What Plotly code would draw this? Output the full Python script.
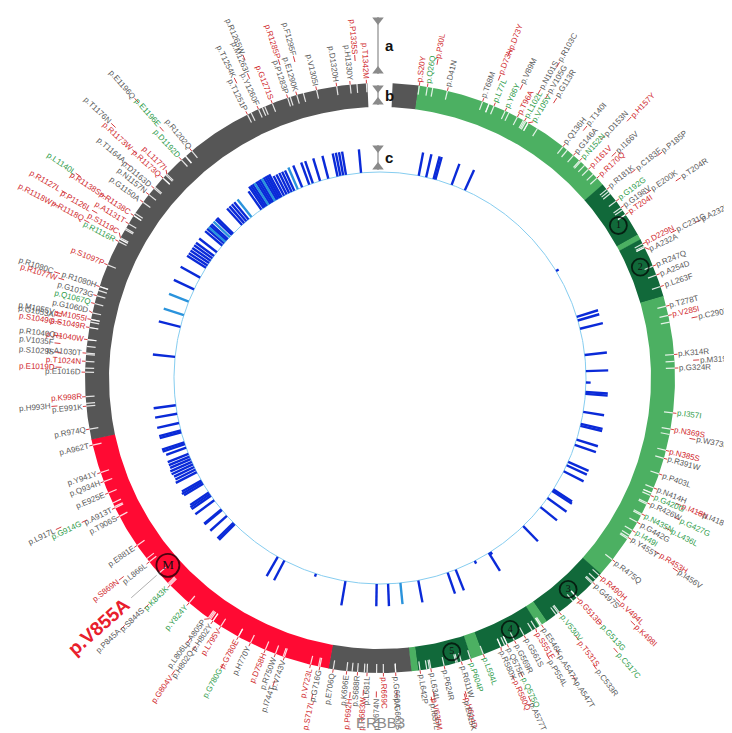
import re, math
import plotly.graph_objects as go

# ---------------- data ----------------
PROTEIN_LEN = 1342
GENE = "ERBB3"

domain_start = [1, 20, 177, 222, 226, 271, 489, 542, 549, 595, 604, 644, 649, 710, 967]
domain_end   = [19, 176, 221, 225, 270, 488, 541, 548, 594, 603, 643, 648, 709, 966, 1342]
domain_kind  = ['other', 'ecd', 'cr', 'ecd', 'cr', 'ecd', 'cr', 'ecd', 'cr', 'ecd', 'cr', 'ecd', 'other', 'kinase', 'other']

motif_pos   = [208, 244, 514, 568, 616, 855]
motif_label = ['1', '2', '3', '4', '5', 'M']

labels = [
    'p.S20Y', 'p.Q26Q', 'p.P30L', 'p.D41N', 'p.T68M', 'p.D73N', 'p.D73Y', 'p.L77L', 'p.Y86Y', 'p.V89M',
    'p.T96A', 'p.N101S', 'p.L102L', 'p.R103C', 'p.V105G', 'p.V105V', 'p.G113R', 'p.Q136H', 'p.T140I', 'p.G146A',
    'p.N152N', 'p.D153N', 'p.H157Y', 'p.I161V', 'p.I166V', 'p.R170Q', 'p.R181K', 'p.C183F', 'p.P185P', 'p.G192G',
    'p.G198V', 'p.E200K', 'p.T204I', 'p.T204R', 'p.D229N', 'p.C231G', 'p.A232S', 'p.A232A', 'p.R247Q', 'p.A254D',
    'p.L263F', 'p.T278T', 'p.V285I', 'p.C290Y', 'p.K314R', 'p.M319I', 'p.G324R', 'p.I357I', 'p.N369S', 'p.W373R',
    'p.N385S', 'p.R391W', 'p.P403L', 'p.N414H', 'p.I418N', 'p.I418V', 'p.G420G', 'p.R426W', 'p.G427G', 'p.N435N',
    'p.L436L', 'p.G442G', 'p.I449I', 'p.R453H', 'p.Y455Y', 'p.I456V', 'p.R475Q', 'p.R490H', 'p.V494L', 'p.G497S',
    'p.K498I', 'p.G513D', 'p.G513G', 'p.C517C', 'p.V530V', 'p.T531S', 'p.C533R', 'p.E546K', 'p.A547A', 'p.A547T',
    'p.S551F', 'p.P554L', 'p.G561S', 'p.G569R', 'p.Q575E', 'p.Q575Q', 'p.A577T', 'p.R580X', 'p.R580Q', 'p.L594L',
    'p.P604P', 'p.R611W', 'p.H614D', 'p.E615K', 'p.P624R', 'p.L634L', 'p.V635M', 'p.I637L', 'p.L642P', 'p.G660A',
    'p.G660S', 'p.R669C', 'p.N674N', 'p.L681L', 'p.R683W', 'p.S688R', 'p.P692H', 'p.K696E', 'p.E706Q', 'p.G716G',
    'p.S717L', 'p.V723L', 'p.V743V', 'p.I744T', 'p.R750W', 'p.D758H', 'p.H770Y', 'p.G780E', 'p.G780G', 'p.L795V',
    'p.H802Y', 'p.H802Q', 'p.G804V', 'p.A805P', 'p.L806L', 'p.Y824Y', 'p.K843K', 'p.S844S', 'p.P845A', 'p.V855A',
    'p.L866L', 'p.S869N', 'p.E881E', 'p.T906S', 'p.A913T', 'p.G914G', 'p.L917L', 'p.E925E', 'p.Q934H', 'p.Y941Y',
    'p.A962T', 'p.R974Q', 'p.E991K', 'p.H993H', 'p.K998R', 'p.E1016D', 'p.E1019D', 'p.T1024N', 'p.S1029S', 'p.A1030T',
    'p.V1035F', 'p.R1040W', 'p.R1040Q', 'p.S1049R', 'p.S1049G', 'p.G1053A', 'p.M1055I', 'p.M1055V', 'p.G1060D', 'p.Q1067Q',
    'p.G1073G', 'p.R1077W', 'p.R1080H', 'p.R1080C', 'p.S1097P', 'p.R1116R', 'p.R1118Q', 'p.R1118W', 'p.S1119C', 'p.P1126L',
    'p.R1127L', 'p.A1131T', 'p.R1138C', 'p.R1138S', 'p.L1140L', 'p.G1150A', 'p.N1157N', 'p.D1163D', 'p.T1164A', 'p.R1173Q',
    'p.R1173W', 'p.T1176N', 'p.L1177I', 'p.D1192D', 'p.E1196E', 'p.E1196Q', 'p.R1202Q', 'p.T1251P', 'p.T1254K', 'p.Y1260F',
    'p.M1263I', 'p.R1265W', 'p.G1271S', 'p.P1283P', 'p.R1285P', 'p.E1290K', 'p.F1295F', 'p.V1305I', 'p.D1320H', 'p.H1330Y',
    'p.P1335S', 'p.T1342M',
]
# r = recurrent (red), g = synonymous (green), k = other (grey)
label_class = list("".join([
    "rgrkkrrggk", "rkgkkgkkkk", "gkrrkrkkkg", "kkrkrkkkkk", "kkrkkkkgrk", "rkkkrkgkgg",
    "gkgrkkkrrk", "rrgggrkkkk", "rkkkkgkkrg", "gkrkkkrkkk", "krkkrkrkkk", "rrkkkrkrgr",
    "kkrkkggkkr", "krkkkgkkkk", "kkkkrkrrkk", "krkrrkrkkg", "krkkrgrrrr", "rrrrgkkkkr",
    "rkrggkkkkk", "kkrkrkkkkk", "rr",
]))

highlight = 'p.V855A'

bar_pos = [32, 40, 48, 50, 68, 83, 213, 266, 270, 279, 307, 324, 336, 346, 348, 367, 380, 382, 397, 403,
           422, 426, 433, 455, 457, 466, 478, 505, 549, 551, 568, 590, 599, 631, 650, 663, 675, 708, 740, 776,
           784, 841, 843, 853, 861, 862, 874, 880, 882, 884, 895, 897, 899, 909, 912, 915, 918, 921, 924, 927,
           930, 937, 941, 943, 954, 956, 964, 974, 983, 1034, 1066, 1079, 1094, 1108, 1122, 1134, 1137, 1140, 1143, 1146,
           1149, 1154, 1163, 1166, 1168, 1170, 1172, 1175, 1178, 1180, 1193, 1196, 1199, 1202, 1206, 1219, 1222, 1224, 1226, 1228,
           1230, 1232, 1234, 1236, 1238, 1240, 1242, 1244, 1247, 1250, 1253, 1256, 1259, 1263, 1268, 1276, 1280, 1288, 1297, 1307,
           1310, 1313, 1316, 1332]
bar_value = [10, 10, 10, 10, 9.5, 9.5, 1.3, 9.5, 9.5, 10, 9.5, 9.5, 2, 9.5, 9.5, 9, 9.5, 9.5, 9.5, 9.5,
             9.5, 9.5, 9.5, 9.5, 10, 10, 9, 9, 1.3, 9, 1.3, 9.5, 9.5, 9.5, 9, 9.5, 9.5, 10.5, 1.3, 9.5,
             9.5, 9.5, 9.5, 9.5, 9.5, 9.5, 10, 10, 10, 9.5, 9.5, 10, 9.5, 10, 9.5, 9.5, 10, 10, 9.5, 9.5,
             9.5, 9, 10, 10, 9.5, 9.5, 9.5, 9.5, 9.5, 9.5, 9.5, 9, 9, 9.5, 9.5, 9.5, 9.5, 9.5, 9.5, 9.5,
             9.5, 9.5, 9.5, 9.5, 9.5, 9.5, 9.5, 9.5, 9.5, 9.5, 9.5, 9.5, 9.5, 9.5, 9.5, 9.5, 11, 11, 11, 11,
             11, 11, 11, 11, 11, 11, 11, 11, 9.5, 9.5, 9.5, 9.5, 9.5, 10, 10, 10, 10, 10, 10, 10,
             10, 10, 10, 10]
bar_light = [1079, 1094, 1168, 1175, 1206, 1228, 1236, 1263, 650]

assert len(labels) == len(label_class)
assert len(bar_pos) == len(bar_value)

# ---------------- geometry / style ----------------
GAP = 5.0
R_IN, R_OUT = 271.0, 295.0
R_CIRCLE = 206.0
BAR_SCALE = 2.35
R_LABEL = 299.0
SEP = 1.55
X_MIN, X_MAX, Y_MIN, Y_MAX = -372, 360, -363, 370

FONT = "Liberation Sans, Arial, sans-serif"
FS = 8

COL = {'ecd': '#4cb062', 'cr': '#11693a', 'kinase': '#ff0a33', 'other': '#565656'}
TXT = {'r': '#d0282c', 'g': '#2f9c4b', 'k': '#595959'}


def ang(u):
    return GAP / 2 + u / PROTEIN_LEN * (360 - GAP)


def theta(p):
    return ang(p - 0.5)


def xy(r, th):
    a = math.radians(th)
    return r * math.sin(a), r * math.cos(a)


CW = {'p': .556, '.': .278, 'A': .667, 'B': .667, 'C': .722, 'D': .722, 'E': .667, 'F': .611, 'G': .778,
      'H': .722, 'I': .278, 'K': .667, 'L': .556, 'M': .833, 'N': .722, 'P': .667, 'Q': .778, 'R': .722,
      'S': .667, 'T': .611, 'V': .667, 'W': .944, 'Y': .667, 'X': .667}


def text_w(s, fs=None, bold=1.0):
    fs = FS if fs is None else fs
    return sum(CW.get(c, .556) for c in s) * fs * bold


def max_radius(th, pad=11):
    """Largest radius at angle th that stays inside the canvas."""
    sx, cy = math.sin(math.radians(th)), math.cos(math.radians(th))
    lim = []
    if sx > 1e-6:
        lim.append((X_MAX - pad) / sx)
    elif sx < -1e-6:
        lim.append((X_MIN + pad) / sx)
    if cy > 1e-6:
        lim.append((Y_MAX - pad) / cy)
    elif cy < -1e-6:
        lim.append((Y_MIN + pad) / cy)
    return min(lim) if lim else 1e9


fig = go.Figure()

# ring segments
for s, e, k in zip(domain_start, domain_end, domain_kind):
    a0, a1 = ang(s - 1) - 0.05, ang(e) + 0.05
    n = max(4, int((a1 - a0) * 2))
    ths = [a0 + (a1 - a0) * i / n for i in range(n + 1)]
    xs, ys = [], []
    for t in ths:
        x, y = xy(R_OUT, t); xs.append(x); ys.append(y)
    for t in reversed(ths):
        x, y = xy(R_IN, t); xs.append(x); ys.append(y)
    fig.add_trace(go.Scatter(x=xs, y=ys, fill='toself', fillcolor=COL[k], mode='lines',
                             line=dict(width=0, color=COL[k]), hoverinfo='skip', showlegend=False))

# positions of labels
label_pos = [int(re.match(r'p\.[A-Z](\d+)', s).group(1)) for s in labels]

# white mutation ticks in ring
tx, ty = [], []
for p in label_pos:
    th = theta(p)
    x0, y0 = xy(R_OUT, th); x1, y1 = xy(R_OUT - 9, th)
    tx += [x0, x1, None]; ty += [y0, y1, None]
fig.add_trace(go.Scatter(x=tx, y=ty, mode='lines', line=dict(color='rgba(255,255,255,0.85)', width=1.2),
                         hoverinfo='skip', showlegend=False))

# inner light-blue circle
cxs, cys = [], []
for i in range(721):
    x, y = xy(R_CIRCLE, i * 0.5); cxs.append(x); cys.append(y)
fig.add_trace(go.Scatter(x=cxs, y=cys, mode='lines', line=dict(color='#86cdf0', width=1),
                         hoverinfo='skip', showlegend=False))

# blue bars
for light in (False, True):
    bx, by = [], []
    for p, v in zip(bar_pos, bar_value):
        if (p in bar_light) != light:
            continue
        th = theta(p)
        x0, y0 = xy(R_CIRCLE, th); x1, y1 = xy(R_CIRCLE + v * BAR_SCALE, th)
        bx += [x0, x1, None]; by += [y0, y1, None]
    fig.add_trace(go.Scatter(x=bx, y=by, mode='lines',
                             line=dict(color='#2a93dc' if light else '#0a2ad8', width=2.4),
                             hoverinfo='skip', showlegend=False))

# label layout (greedy tiers)
order = sorted(range(len(labels)), key=lambda i: label_pos[i])
last = [-999.0, -999.0, -999.0]
placed = {}
for i in order:
    th = theta(label_pos[i])
    if labels[i] == highlight:
        for t in range(3):
            last[t] = max(last[t], th + 1.2)
        continue
    chosen = None
    for t in (0, 1):
        if th - last[t] >= SEP:
            chosen, thl = t, th
            break
    if chosen is None:
        pushes = [last[t] + SEP - th for t in range(3)]
        t = 0 if pushes[0] <= pushes[1] else 1
        if pushes[t] > 1.2 and pushes[2] <= 0:
            t = 2
        elif pushes[2] + 1.0 < pushes[t]:
            t = 2
        chosen, thl = t, max(th, last[t] + SEP)
    last[chosen] = thl
    placed[i] = (chosen, thl)

cx_, cy_ = [], []
annotations = []
for i, (tier, thl) in placed.items():
    s = labels[i]
    w = text_w(s)
    r0 = R_LABEL + tier * (w + 1)
    r0 = max(R_LABEL, min(r0, max_radius(thl) - w))
    thp = theta(label_pos[i])
    if tier == 0:
        x0, y0 = xy(R_OUT, thp); x1, y1 = xy(r0 - 0.5, thl)
    else:
        x0, y0 = xy(r0 - 7, thl); x1, y1 = xy(r0 - 1, thl)
    cx_ += [x0, x1, None]; cy_ += [y0, y1, None]
    rc = r0 + w / 2
    x, y = xy(rc, thl)
    tang = thl - 90 if thl < 180 else thl - 270
    annotations.append(dict(x=x, y=y, xref='x', yref='y', text=s, showarrow=False, textangle=tang,
                            xanchor='center', yanchor='middle',
                            font=dict(family=FONT, size=FS, color=TXT[label_class[i]])))

fig.add_trace(go.Scatter(x=cx_, y=cy_, mode='lines', line=dict(color='#d0282c', width=0.9),
                         hoverinfo='skip', showlegend=False))

# highlighted label
hi = labels.index(highlight)
thh = theta(label_pos[hi])
HFS = 19
hw = text_w(highlight, HFS, 1.07)
x0, y0 = xy(R_OUT + 3, thh); x1, y1 = xy(332, thh)
fig.add_trace(go.Scatter(x=[x0, x1], y=[y0, y1], mode='lines', line=dict(color='#b0b0b0', width=1),
                         hoverinfo='skip', showlegend=False))
hx, hy = xy(336 + hw / 2, thh)
annotations.append(dict(x=hx, y=hy, xref='x', yref='y', text='<b>' + highlight + '</b>', showarrow=False,
                        textangle=thh - 270, xanchor='center', yanchor='middle',
                        font=dict(family=FONT, size=HFS, color='#e8202c')))

# motif circles
mx, my = [], []
for p in motif_pos:
    x, y = xy((R_IN + R_OUT) / 2, theta(p)); mx.append(x); my.append(y)
sizes = [17 if m != 'M' else 23 for m in motif_label]
fig.add_trace(go.Scatter(x=mx, y=my, mode='markers+text', text=motif_label, textposition='middle center',
                         textfont=dict(family='Liberation Serif, DejaVu Serif, serif', size=[10, 10, 10, 10, 10, 13],
                                       color='#111111'),
                         marker=dict(symbol='circle-open', size=sizes, color='#000000', line=dict(width=1.8, color='#000000')),
                         hoverinfo='skip', showlegend=False))

# track markers a, b, c at the gap
tracks = [('a', R_LABEL + 5, R_LABEL + 62), ('b', R_IN + 2, R_OUT - 2), ('c', R_CIRCLE + 2, R_CIRCLE + 27)]
for name, r0, r1 in tracks:
    xm = -2
    fig.add_trace(go.Scatter(x=[xm, xm], y=[r0, r1], mode='lines', line=dict(color='#8a8a8a', width=1.2),
                             hoverinfo='skip', showlegend=False))
    fig.add_trace(go.Scatter(x=[xm, xm], y=[r1 - 3, r0 + 3], mode='markers',
                             marker=dict(symbol=['triangle-down', 'triangle-up'], size=10, color='#8a8a8a'),
                             hoverinfo='skip', showlegend=False))
    annotations.append(dict(x=xm + 11, y=(r0 + r1) / 2, xref='x', yref='y', text='<b>' + name + '</b>',
                            showarrow=False, xanchor='center', yanchor='middle',
                            font=dict(family='Liberation Sans, Arial, sans-serif', size=15, color='#111111')))

# gene name
annotations.append(dict(x=0, y=-344, xref='x', yref='y', text=GENE, showarrow=False, xanchor='center',
                        yanchor='middle', font=dict(family=FONT, size=15, color='#8c8c8c')))

fig.update_layout(
    width=732, height=733, autosize=False,
    margin=dict(l=0, r=0, t=0, b=0),
    paper_bgcolor='white', plot_bgcolor='white',
    xaxis=dict(range=[X_MIN, X_MAX], visible=False, fixedrange=True),
    yaxis=dict(range=[Y_MIN, Y_MAX], visible=False, fixedrange=True),
    annotations=annotations,
    showlegend=False,
)
fig.write_html("out.html")
